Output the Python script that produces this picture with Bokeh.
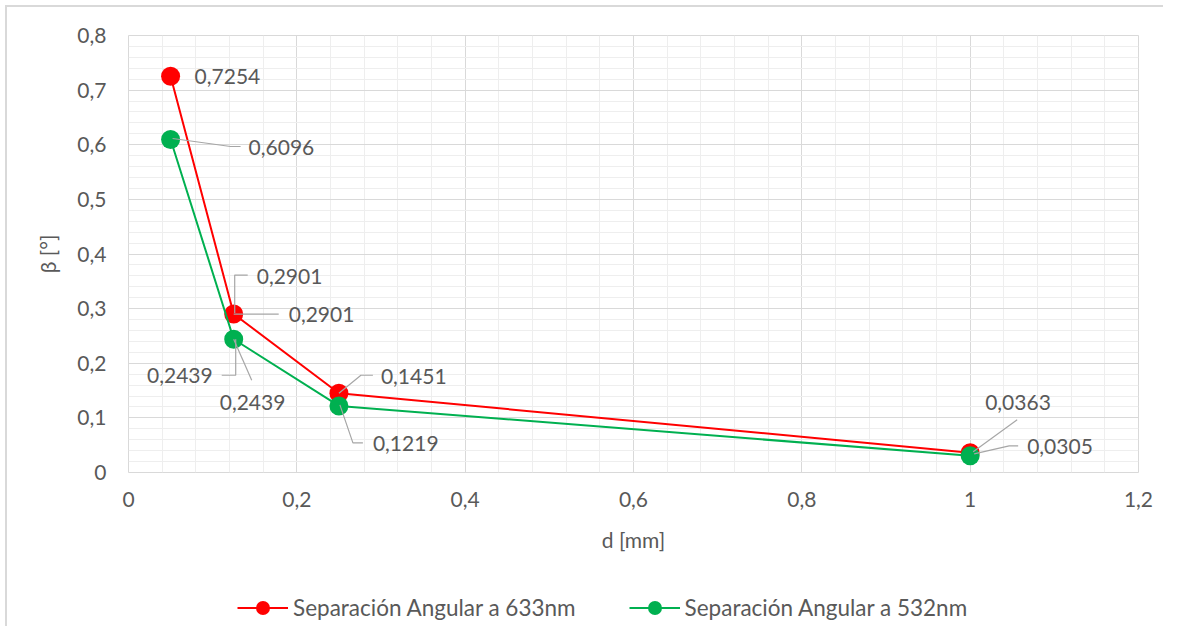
import numpy as np
from bokeh.plotting import figure
from bokeh.layouts import column
from bokeh.models import (ColumnDataSource, Range1d, Legend, LegendItem,
                          FixedTicker, CustomJSTickFormatter)
from bokeh.core.properties import value
from bokeh.embed import file_html
from bokeh.resources import INLINE

# ---------------- data ----------------
d_mm = [0.05, 0.125, 0.25, 1.0]
beta_633 = [0.7254, 0.2901, 0.1451, 0.0363]
beta_532 = [0.6096, 0.2439, 0.1219, 0.0305]
series_names = ["Separación Angular a 633nm", "Separación Angular a 532nm"]
x_ticks = [0, 0.2, 0.4, 0.6, 0.8, 1.0, 1.2]
y_ticks = [0, 0.1, 0.2, 0.3, 0.4, 0.5, 0.6, 0.7, 0.8]
x_title = "d [mm]"
y_title = "β [°]"

# ---------------- style ----------------
FONT = "Lato"
FS = "21px"
LEG_FS = "22.5px"
TXT = "#595959"
RED = "#FF0000"
GREEN = "#00B050"
W, H = 1163, 626
LEG_H = 40
BL, BR, BT = 128, 25, 35
FRAME_H = 437
X0, X1, Y0, Y1 = 0, 1.2, 0, 0.8
PX_X = (W - BL - BR) / (X1 - X0)
PX_Y = FRAME_H / (Y1 - Y0)
BB = H - LEG_H - BT - FRAME_H
GRAD = "linear-gradient(#d9d9d9, #d9d9d9)"

# label placement: (series, point index, text dx, text dy, align, leader offsets in px)
label_specs = [
    (0, 0, 24, 0, "left", []),
    (1, 0, 78, 8, "left", [(2, -1), (60, 7), (70, 7)]),
    (0, 1, 23, -38, "left", [(1, -1), (1, -39), (14, -39)]),
    (0, 1, 55, 0, "left", [(0, 0), (45, 0)]),
    (1, 1, -21, 36, "right", [(2, 0), (2, 36), (-12, 36)]),
    (1, 1, -14, 63, "left", [(0, 0), (18, 41)]),
    (0, 2, 42, -17, "left", [(0, 0), (22, -18), (34, -18)]),
    (1, 2, 34, 38, "left", [(1, -1), (14, 37), (24, 37)]),
    (0, 3, 15, -50, "left", [(3, -1), (47, -33)]),
    (1, 3, 57, -9, "left", [(4, -2), (39, -10), (48, -10)]),
]


def minor_between(ticks, n):
    out = []
    for a, b in zip(ticks[:-1], ticks[1:]):
        out.extend(np.linspace(a, b, n + 1)[1:-1].round(6).tolist())
    return out


p = figure(width=W, height=H - LEG_H, x_range=Range1d(X0, X1), y_range=Range1d(Y0, Y1),
           output_backend="svg", toolbar_location=None,
           min_border_left=BL, min_border_right=BR, min_border_top=BT, min_border_bottom=BB,
           background_fill_color="white", border_fill_alpha=0)
p.styles = {"background-color": "white",
            "background-image": f"{GRAD}, {GRAD}",
            "background-size": "2px 100%, 100% 2px",
            "background-position": "5px 5px, 5px 5px",
            "background-repeat": "no-repeat"}
p.outline_line_color = "#d9d9d9"
p.outline_line_width = 1

fmt = CustomJSTickFormatter(code="return String(Math.round(tick*10)/10).replace('.', ',');")
p.xaxis.ticker = FixedTicker(ticks=x_ticks, minor_ticks=minor_between(x_ticks, 5))
p.yaxis.ticker = FixedTicker(ticks=y_ticks, minor_ticks=minor_between(y_ticks, 5))
p.xgrid.ticker = p.xaxis.ticker
p.ygrid.ticker = p.yaxis.ticker
for ax in (p.xaxis, p.yaxis):
    ax.formatter = fmt
    ax.axis_line_color = None
    ax.major_tick_line_color = None
    ax.minor_tick_line_color = None
    ax.major_tick_out = 0
    ax.major_tick_in = 0
    ax.minor_tick_out = 0
    ax.minor_tick_in = 0
    ax.major_label_text_font = FONT
    ax.major_label_text_font_size = FS
    ax.major_label_text_color = TXT
    ax.axis_label_text_font = FONT
    ax.axis_label_text_font_size = FS
    ax.axis_label_text_color = TXT
    ax.axis_label_text_font_style = "normal"
p.xaxis.axis_label = x_title
p.yaxis.axis_label = y_title
p.yaxis.major_label_standoff = 22
p.xaxis.major_label_standoff = 19
p.xaxis.axis_label_standoff = 17
p.yaxis.axis_label_standoff = 14

for g in (p.xgrid, p.ygrid):
    g.grid_line_color = "#d9d9d9"
    g.grid_line_width = 1
    g.minor_grid_line_color = "#eeeeee"
    g.minor_grid_line_width = 1

# legend strip (separate small figure so the legend is not clipped)
p2 = figure(width=W, height=LEG_H, output_backend="svg", toolbar_location=None,
            x_range=Range1d(0, 1), y_range=Range1d(0, 1),
            x_axis_type=None, y_axis_type=None, min_border=0,
            background_fill_alpha=0, border_fill_alpha=0)
p2.outline_line_color = None
p2.grid.visible = False
p2.styles = {"background-color": "white",
             "background-image": GRAD,
             "background-size": "2px 100%",
             "background-position": "5px 0px",
             "background-repeat": "no-repeat"}

series = [beta_633, beta_532]
colors = [RED, GREEN]
items = []
for name, ys, c in zip(series_names, series, colors):
    src = ColumnDataSource(dict(x=d_mm, y=ys))
    p.line("x", "y", source=src, line_color=c, line_width=2)
    p.scatter("x", "y", source=src, size=19, fill_color=c, line_color=c, line_width=0)
    # legend proxies in the strip, placed off its visible range
    proxy = ColumnDataSource(dict(x=[-10, -9], y=[-10, -10]))
    l2 = p2.line("x", "y", source=proxy, line_color=c, line_width=2)
    s2 = p2.scatter("x", "y", source=proxy, size=15, fill_color=c, line_color=c, line_width=0)
    items.append(LegendItem(label=name, renderers=[l2, s2]))

# data labels with leader lines
lx, ly, ltxt, ldx, ldy, lal = [], [], [], [], [], []
mxs, mys = [], []
for s, i, dx, dy, al, leader in label_specs:
    xv, yv = d_mm[i], series[s][i]
    lx.append(xv); ly.append(yv)
    ltxt.append(f"{yv:.4f}".replace(".", ","))
    ldx.append(dx); ldy.append(dy); lal.append(al)
    if leader:
        mxs.append([xv + ox / PX_X for ox, oy in leader])
        mys.append([yv - oy / PX_Y for ox, oy in leader])

p.multi_line(mxs, mys, line_color="#a6a6a6", line_width=1.2)
lsrc = ColumnDataSource(dict(x=lx, y=ly, t=ltxt, dx=ldx, dy=ldy, al=lal))
p.text("x", "y", text="t", source=lsrc, x_offset="dx", y_offset="dy",
       text_align="al", text_baseline="middle", text_font=value(FONT),
       text_font_size=FS, text_color=TXT)

legend = Legend(items=items, orientation="horizontal", location=(237 - BL, 1.5),
                padding=0, margin=0, spacing=53, label_standoff=5,
                glyph_width=51, glyph_height=35, label_height=24,
                label_text_font=FONT, label_text_font_size=LEG_FS, label_text_color=TXT,
                border_line_color=None, background_fill_alpha=0)
p2.add_layout(legend, "center")

layout = column(p, p2, spacing=0)
open("out.html", "w").write(file_html(layout, INLINE))
